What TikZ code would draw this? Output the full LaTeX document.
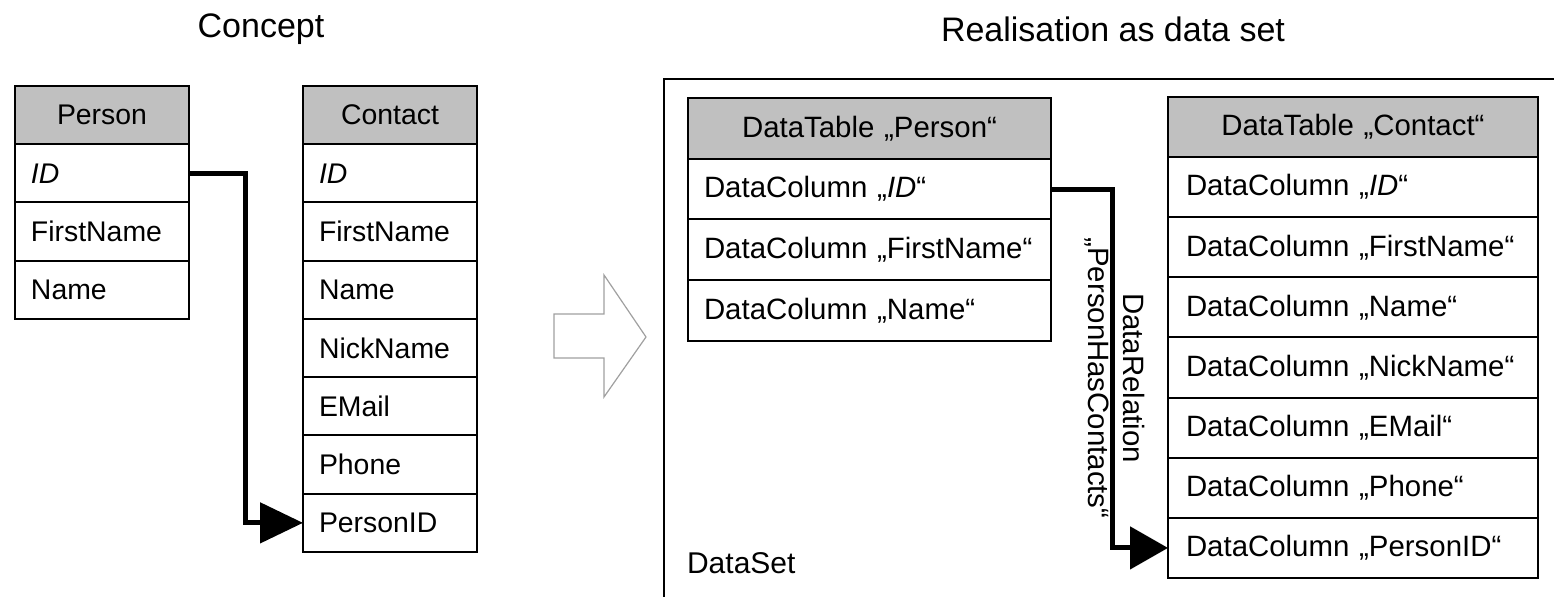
\documentclass[tikz,border=0pt]{standalone}
\usepackage{fontspec}
\setmainfont{Liberation Sans}
\usetikzlibrary{arrows.meta}
\definecolor{hdrgray}{RGB}{192,192,192}
\definecolor{hollowgray}{RGB}{160,160,160}
\tikzset{
  cellbase/.style={draw, line width=1pt, anchor=north west, inner ysep=0pt, inner xsep=8pt, outer sep=0pt},
  cellC/.style={cellbase, minimum height=29.125pt, text width=71pt, align=left, font=\fontsize{14.2}{17}\selectfont},
  hdrC/.style={cellC, fill=hdrgray, align=center},
  cellP/.style={cellbase, minimum height=30.375pt, text width=165.5pt, align=left, font=\fontsize{14.7}{17.5}\selectfont},
  hdrP/.style={cellP, fill=hdrgray, align=center},
  cellQ/.style={cellbase, minimum height=30.0625pt, inner xsep=9pt, text width=167pt, align=left, font=\fontsize{14.7}{17.5}\selectfont},
  hdrQ/.style={cellQ, fill=hdrgray, align=center},
  title/.style={font=\fontsize{17}{20}\selectfont},
  conn/.style={line width=2.5pt},
}
\begin{document}
\begin{tikzpicture}[x=0.5pt,y=-0.5pt]
\useasboundingbox (0,0) rectangle (1554,597);
% titles
\node[title] (tconcept) at (261,29) {Concept};
\node[title] (trealis) at (1113,29) {Realisation as data set};
% Concept: Person
\node[hdrC] (ph) at (15,86) {Person};
\node[cellC] (pID) at (ph.south west) {\itshape ID};
\node[cellC] (pFN) at (pID.south west) {FirstName};
\node[cellC] (pN) at (pFN.south west) {Name};
% Concept: Contact
\node[hdrC] (ch) at (303,86) {Contact};
\node[cellC] (cID) at (ch.south west) {\itshape ID};
\node[cellC] (cFN) at (cID.south west) {FirstName};
\node[cellC] (cN) at (cFN.south west) {Name};
\node[cellC] (cNN) at (cN.south west) {NickName};
\node[cellC] (cEM) at (cNN.south west) {EMail};
\node[cellC] (cPh) at (cEM.south west) {Phone};
\node[cellC] (cPID) at (cPh.south west) {PersonID};
\draw[conn, -{Triangle[length=21.5pt,width=20pt]}] (pID.east) -- ++(56,0) |- (cPID.west);
% hollow arrow
\draw[hollowgray, line width=0.6pt] (554,314) -- (604,314) -- (604,275) -- (646,337) -- (604,397) -- (604,358) -- (554,358) -- cycle;
% DataSet frame
\draw[line width=1pt] (1554,79) -- (664,79) -- (664,597);
\node[anchor=west, font=\fontsize{15}{18}\selectfont] (dset) at (680,563) {DataSet};
% DataTable Person
\node[hdrP] (dph) at (688,98) {DataTable „Person“};
\node[cellP] (dID) at (dph.south west) {DataColumn „\textit{ID}“};
\node[cellP] (dFN) at (dID.south west) {DataColumn „FirstName“};
\node[cellP] (dN) at (dFN.south west) {DataColumn „Name“};
% DataTable Contact
\node[hdrQ] (dch) at (1168,97) {DataTable „Contact“};
\node[cellQ] (dcID) at (dch.south west) {DataColumn „\textit{ID}“};
\node[cellQ] (dcFN) at (dcID.south west) {DataColumn „FirstName“};
\node[cellQ] (dcN) at (dcFN.south west) {DataColumn „Name“};
\node[cellQ] (dcNN) at (dcN.south west) {DataColumn „NickName“};
\node[cellQ] (dcEM) at (dcNN.south west) {DataColumn „EMail“};
\node[cellQ] (dcPh) at (dcEM.south west) {DataColumn „Phone“};
\node[cellQ] (dcPID) at (dcPh.south west) {DataColumn „PersonID“};
\draw[conn, -{Triangle[length=19pt,width=21pt]}] (dID.east) -- ++(61,0) |- (dcPID.west);
\node[rotate=-90, align=center, font=\fontsize{14.7}{17.5}\selectfont] (rel) at (1115,378) {DataRelation\\„PersonHasContacts“};
\end{tikzpicture}
\end{document}
